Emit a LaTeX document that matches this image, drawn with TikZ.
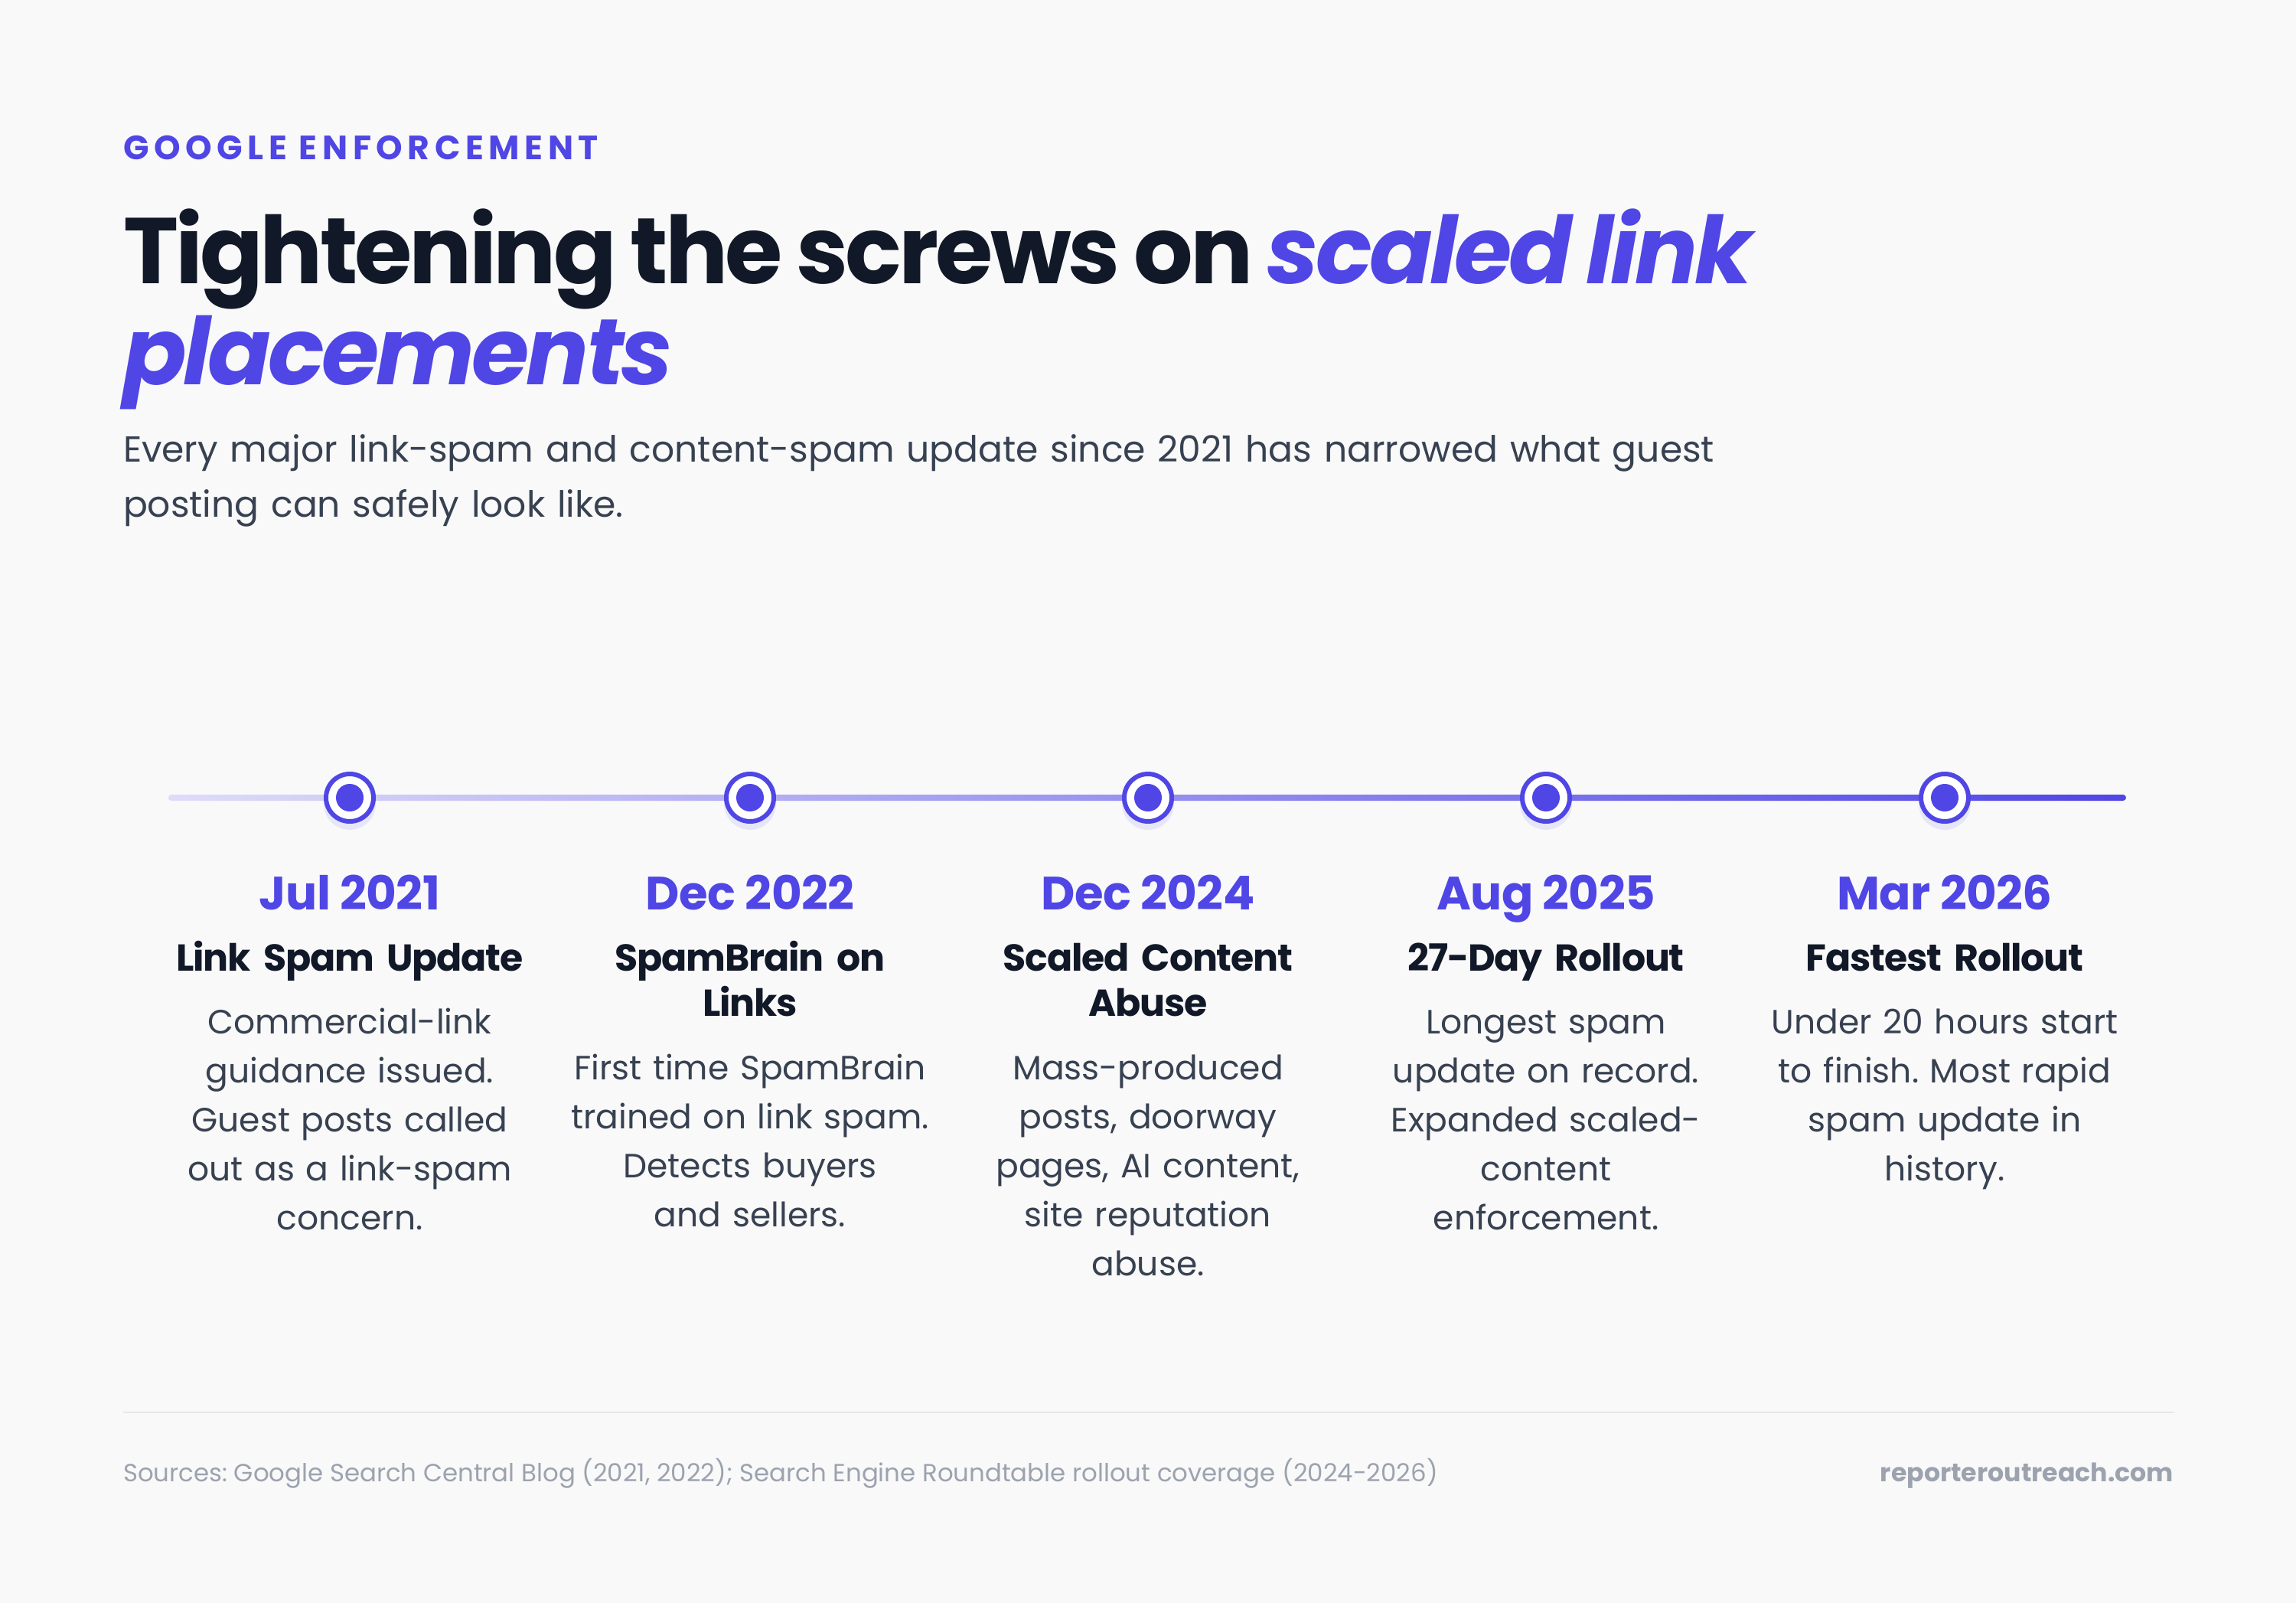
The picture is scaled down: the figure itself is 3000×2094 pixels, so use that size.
\documentclass[tikz,border=0pt]{standalone}
\usepackage{fontspec}
\setmainfont{Poppins}
\newfontfamily\titlefont{Poppins}[LetterSpace=-3.3]
\frenchspacing
\definecolor{bgc}{HTML}{F9F9F9}
\definecolor{indigo}{HTML}{4F46E5}
\definecolor{lineL}{HTML}{DEDCF8}
\definecolor{darkc}{HTML}{111827}
\definecolor{bodyc}{HTML}{374151}
\definecolor{footc}{HTML}{9CA3AF}
\definecolor{rulec}{HTML}{E5E7EB}
\definecolor{shadowc}{HTML}{E7E6F9}
\tikzset{
  txt/.style={inner sep=0pt, outer sep=0pt},
  datelbl/.style={txt, anchor=base, text=indigo, font=\fontsize{30.5}{34}\selectfont\bfseries\addfontfeatures{LetterSpace=-1}},
  headlbl/.style={txt, anchor=base, text width=300pt, align=center, text=darkc, font=\fontsize{24.5}{29.5}\selectfont\bfseries\addfontfeatures{LetterSpace=-2.5}},
  desclbl/.style={txt, anchor=base, text width=300pt, align=center, text=bodyc, font=\fontsize{22}{32.1}\selectfont},
  ring/.style={circle, draw=indigo, line width=3pt, fill=white, minimum size=31pt, inner sep=0pt},
  dot/.style={circle, fill=indigo, minimum size=18pt, inner sep=0pt},
  shad/.style={circle, fill=shadowc, minimum size=34pt, inner sep=0pt},
}
\begin{document}
\begin{tikzpicture}[x=0.5pt,y=-0.5pt]
\fill[bgc] (0,0) rectangle (3000,2094);
\useasboundingbox (0,0) rectangle (3000,2094);

% header
\node[txt, anchor=base west, text=indigo, font=\fontsize{22}{26}\selectfont\bfseries\addfontfeatures{LetterSpace=15}] (kicker) at (161,208) {GOOGLE ENFORCEMENT};
\node[txt, anchor=base west, text width=1400pt, align=left, text=darkc, font=\titlefont\fontsize{61}{66}\selectfont\bfseries] (title) at (161,370)
  {\spaceskip=9pt\relax Tightening the screws on \textcolor{indigo}{\itshape scaled link}\\\textcolor{indigo}{\itshape placements}};
\node[txt, anchor=base west, text width=1300pt, align=left, text=bodyc, font=\fontsize{23.6}{36}\selectfont] (sub) at (161,603)
  {Every major link-spam and content-spam update since 2021 has narrowed what guest\\posting can safely look like.};

% timeline
\coordinate (tlstart) at (220,1042);
\coordinate (tlend) at (2778,1042);
\shade[left color=lineL, right color=indigo, rounded corners=2pt] ([yshift=2pt]tlstart) rectangle ([yshift=-2pt]tlend);

\foreach \i/\x in {1/457,2/980,3/1500,4/2020,5/2541}{
  \node[shad] (s\i) at (\x,1050) {};
  \node[ring] (m\i) at (\x,1042) {};
  \node[dot] (c\i) at (m\i.center) {};
}

% column 1
\node[datelbl] (d1) at (457,1188) {Jul 2021};
\node[headlbl] (h1) at (457,1268) {Link Spam Update};
\node[desclbl] (t1) at (457,1350) {Commercial-link\\guidance issued.\\Guest posts called\\out as a link-spam\\concern.};
% column 2
\node[datelbl] (d2) at (980,1188) {Dec 2022};
\node[headlbl] (h2) at (980,1268) {SpamBrain on\\Links};
\node[desclbl] (t2) at (980,1410) {First time SpamBrain\\trained on link spam.\\Detects buyers\\and sellers.};
% column 3
\node[datelbl] (d3) at (1500,1188) {Dec 2024};
\node[headlbl] (h3) at (1500,1268) {Scaled Content\\Abuse};
\node[desclbl] (t3) at (1500,1410) {Mass-produced\\posts, doorway\\pages, AI content,\\site reputation\\abuse.};
% column 4
\node[datelbl] (d4) at (2020,1188) {Aug 2025};
\node[headlbl] (h4) at (2020,1268) {27-Day Rollout};
\node[desclbl] (t4) at (2020,1350) {Longest spam\\update on record.\\Expanded scaled-\\content\\enforcement.};
% column 5
\node[datelbl] (d5) at (2541,1188) {Mar 2026};
\node[headlbl] (h5) at (2541,1268) {Fastest Rollout};
\node[desclbl] (t5) at (2541,1350) {Under 20 hours start\\to finish. Most rapid\\spam update in\\history.};

% footer
\coordinate (rl) at (161,1845);
\coordinate (rr) at (2840,1845);
\draw[rulec, line width=1pt] (rl) -- (rr);
\node[txt, anchor=base west, text=footc, font=\fontsize{16.2}{19}\selectfont] (src) at (161,1935)
  {Sources: Google Search Central Blog (2021, 2022); Search Engine Roundtable rollout coverage (2024-2026)};
\node[txt, anchor=base east, text=footc, font=\fontsize{16.6}{19}\selectfont\bfseries] (brand) at (2840,1935) {reporteroutreach.com};
\end{tikzpicture}
\end{document}
